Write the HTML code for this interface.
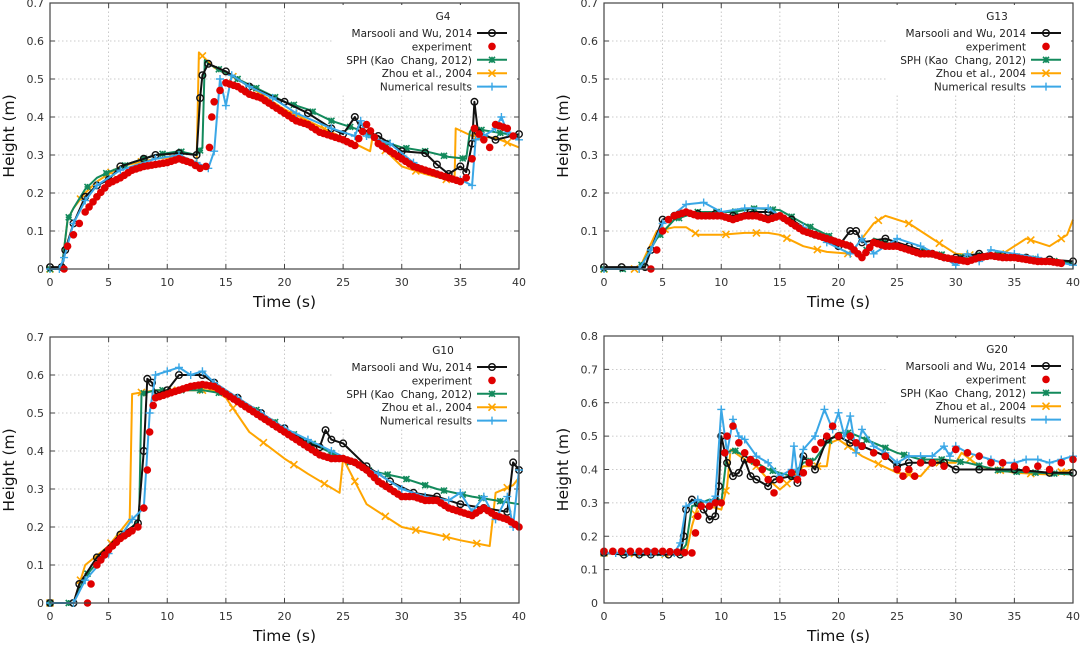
<!DOCTYPE html>
<html><head><meta charset="utf-8"><style>
body{margin:0;background:#fff;width:1080px;height:645px;overflow:hidden}
svg{display:block}
text{font-family:"DejaVu Sans","Liberation Sans",sans-serif}
</style></head><body>
<svg id="s" width="1080" height="645" xmlns="http://www.w3.org/2000/svg"></svg>
<script>
const S=document.getElementById('s');let out='';
const C={k:'#111',r:'#e00000',g:'#138a5c',o:'#ffa500',b:'#3aa7e6'};
function panel(P){
 const {x0,x1,y0,y1,ymax,title,data}=P;
 const X=t=>x0+(x1-x0)*t/40, Y=h=>y0-(y0-y1)*h/ymax;
 let g='';
 for(let t=0;t<=40;t+=5){const x=X(t);
  if(t>0&&t<40) g+=`<line x1="${x}" y1="${y0}" x2="${x}" y2="${y1}" stroke="#bbb" stroke-width="0.8" stroke-dasharray="1.5,2.5"/>`;
  g+=`<line x1="${x}" y1="${y0}" x2="${x}" y2="${y0-5}" stroke="#444"/><line x1="${x}" y1="${y1}" x2="${x}" y2="${y1+5}" stroke="#444"/>`;
  g+=`<text x="${x}" y="${y0+17}" font-size="11" fill="#333" text-anchor="middle">${t}</text>`;}
 for(let h=0;h<=ymax+1e-9;h+=0.1){const y=Y(h);
  if(h>0.001&&h<ymax-0.001) g+=`<line x1="${x0}" y1="${y}" x2="${x1}" y2="${y}" stroke="#bbb" stroke-width="0.8" stroke-dasharray="1.5,2.5"/>`;
  g+=`<line x1="${x0}" y1="${y}" x2="${x0+5}" y2="${y}" stroke="#444"/><line x1="${x1}" y1="${y}" x2="${x1-5}" y2="${y}" stroke="#444"/>`;
  g+=`<text x="${x0-6}" y="${y+4}" font-size="11" fill="#333" text-anchor="end">${h<0.001?'0':h.toFixed(1)}</text>`;}
 out+=g;
 const lx=x1-12;
 out+=`<rect x="${x1-185}" y="${y1+2}" width="183" height="88" fill="#fff"/>`;
 const pl=a=>a.map(p=>X(p[0]).toFixed(1)+','+Y(p[1]).toFixed(1)).join(' ');
 const mk=(type,x,y,c)=>{
  if(type=='k')return `<circle cx="${x}" cy="${y}" r="3.3" fill="none" stroke="${c}" stroke-width="1.4"/>`;
  if(type=='r')return `<circle cx="${x}" cy="${y}" r="3.8" fill="${c}"/>`;
  if(type=='g')return `<path d="M${x-3},${y-3}L${x+3},${y+3}M${x-3},${y+3}L${x+3},${y-3}M${x-3},${y}L${x+3},${y}M${x},${y-3}L${x},${y+3}" stroke="${c}" stroke-width="1.6"/><rect x="${x-2}" y="${y-2}" width="4" height="4" fill="${c}"/>`;
  if(type=='o')return `<path d="M${x-3.5},${y-3.5}L${x+3.5},${y+3.5}M${x-3.5},${y+3.5}L${x+3.5},${y-3.5}" stroke="${c}" stroke-width="1.6"/>`;
  if(type=='b')return `<path d="M${x-4},${y}L${x+4},${y}M${x},${y-4}L${x},${y+4}" stroke="${c}" stroke-width="1.4"/>`;};
 const interp=(a,t)=>{for(let i=1;i<a.length;i++){if(t<=a[i][0]){const u=(t-a[i-1][0])/(a[i][0]-a[i-1][0]||1);return a[i-1][1]+u*(a[i][1]-a[i-1][1]);}}return a[a.length-1][1];};
 for(const k of ['o','g','k','b']){
  const a=data[k];
  out+=`<polyline points="${pl(a)}" fill="none" stroke="${C[k]}" stroke-width="2" stroke-linejoin="round"/>`;
  const step={o:2.6,g:1.6,k:0,b:0}[k];
  if(step){for(let t=0;t<=40;t+=step)out+=mk(k,X(t),Y(interp(a,t)),C[k]);}
  else a.forEach((p,i)=>{out+=mk(k,X(p[0]),Y(p[1]),C[k]);});
 }
 data.r.forEach(p=>out+=mk('r',X(p[0]),Y(p[1]),C.r));
 out+=`<rect x="${x0}" y="${y1}" width="${x1-x0}" height="${y0-y1}" fill="none" stroke="#444" stroke-width="1.2"/>`;
 const rows=[['Marsooli and Wu, 2014','k'],['experiment','r'],['SPH (Kao  Chang, 2012)','g'],['Zhou et al., 2004','o'],['Numerical results','b']];
 out+=`<text x="${lx-64}" y="${y1+17}" font-size="10.5" fill="#222" text-anchor="middle">${title}</text>`;
 rows.forEach((r,i)=>{const y=y1+30+i*13.4;
  out+=`<text x="${lx-35}" y="${y+4}" font-size="10.5" fill="#222" text-anchor="end" xml:space="preserve">${r[0]}</text>`;
  if(r[1]!='r')out+=`<line x1="${lx-30}" y1="${y}" x2="${lx}" y2="${y}" stroke="${C[r[1]]}" stroke-width="2"/>`;
  out+=mk(r[1],lx-15,y,C[r[1]]);});
 out+=`<text x="${(x0+x1)/2}" y="${y0+38}" font-size="15.5" fill="#111" text-anchor="middle">Time (s)</text>`;
 const cy=(y0+y1)/2;
 out+=`<text x="${x0-36}" y="${cy}" font-size="15.5" fill="#111" text-anchor="middle" transform="rotate(-90 ${x0-36} ${cy})">Height (m)</text>`;
}
function dense(a,n){const r=[];for(let i=1;i<a.length;i++){const m=Math.max(1,Math.round((a[i][0]-a[i-1][0])*n));for(let j=0;j<m;j++){const u=j/m;r.push([a[i-1][0]+u*(a[i][0]-a[i-1][0]),a[i-1][1]+u*(a[i][1]-a[i-1][1])]);}}r.push(a[a.length-1]);return r;}
panel({x0:50,x1:519,y0:269,y1:3,ymax:0.7,title:'G4',data:{
k:[[0,0.005],[1,0.005],[1.3,0.05],[2,0.12],[3,0.19],[4,0.22],[5,0.235],[6,0.27],[8,0.29],[9,0.30],[11,0.305],[12.5,0.3],[12.8,0.45],[13,0.51],[13.5,0.54],[15,0.52],[17,0.48],[20,0.44],[22,0.41],[24,0.37],[25,0.355],[26,0.40],[26.5,0.37],[28,0.35],[30,0.31],[32,0.305],[33,0.275],[34,0.25],[35,0.27],[35.5,0.255],[36,0.33],[36.2,0.44],[36.5,0.36],[38,0.34],[40,0.355]],
r:dense([[1.2,0],[1.5,0.06],[2,0.09],[2.5,0.12],[3,0.15],[4,0.19],[5,0.225],[6,0.24],[7,0.26],[8,0.27],[9,0.275],[10,0.28],[11,0.29],[12,0.28],[12.8,0.265],[13.3,0.27],[13.6,0.32],[13.8,0.4],[14,0.44],[14.5,0.47],[15,0.49],[16,0.48],[17,0.46],[18,0.45],[19,0.43],[20,0.41],[21,0.39],[22,0.38],[23,0.36],[24,0.35],[25,0.34],[26,0.325],[27,0.38],[28,0.33],[29,0.31],[30,0.29],[31,0.27],[32,0.26],[33,0.25],[34,0.24],[35,0.23],[35.5,0.24],[36,0.29],[36.2,0.37],[37,0.34],[37.5,0.32],[38,0.38],[39,0.37],[39.5,0.35]],2.5),
g:[[0,0],[1,0],[1.5,0.13],[2,0.16],[3,0.21],[4,0.24],[5,0.255],[7,0.28],[9,0.3],[11,0.31],[12.5,0.3],[13,0.32],[13.2,0.55],[13.5,0.54],[16,0.5],[18,0.47],[20,0.44],[22,0.42],[24,0.39],[26,0.37],[28,0.34],[30,0.32],[32,0.31],[34,0.295],[35.5,0.29],[35.8,0.36],[36,0.37],[38,0.36],[40,0.35]],
o:[[0,0],[1,0],[1.5,0.13],[2,0.16],[3,0.2],[4,0.23],[6,0.27],[9,0.29],[11,0.295],[12.5,0.28],[12.7,0.57],[14,0.53],[16,0.5],[18,0.46],[20,0.42],[24,0.36],[27.3,0.31],[27.5,0.345],[30,0.27],[32,0.25],[34.5,0.23],[34.6,0.37],[36,0.35],[38,0.345],[40,0.32]],
b:[[0,0],[0.8,0],[1.2,0.03],[2,0.12],[3,0.18],[4,0.22],[6,0.26],[9,0.29],[11,0.3],[12.5,0.28],[13.5,0.265],[14,0.31],[14.5,0.5],[15,0.43],[15.5,0.51],[17,0.48],[19,0.45],[21,0.41],[24,0.37],[26,0.35],[26.5,0.39],[27,0.35],[29,0.33],[31,0.28],[33,0.25],[35,0.235],[36,0.22],[36.3,0.34],[37,0.35],[38,0.37],[38.5,0.4],[39,0.36],[40,0.34]]}});
panel({x0:604,x1:1073,y0:269,y1:3,ymax:0.7,title:'G13',data:{
k:[[0,0.005],[1.5,0.005],[3.5,0.005],[4,0.05],[5,0.13],[6,0.14],[8,0.145],[9.5,0.145],[11,0.14],[12.5,0.15],[14,0.15],[16,0.13],[18,0.09],[20,0.06],[21,0.1],[21.5,0.1],[22,0.07],[24,0.08],[26,0.06],[28,0.04],[30,0.03],[32,0.04],[34,0.035],[36,0.03],[38,0.025],[40,0.02]],
r:dense([[4,0],[4.5,0.05],[5,0.1],[5.5,0.13],[6,0.14],[7,0.15],[8,0.14],[9,0.14],[10,0.14],[11,0.13],[12,0.14],[13,0.14],[14,0.13],[15,0.14],[16,0.12],[17,0.1],[18,0.09],[19,0.08],[20,0.07],[21,0.06],[22,0.03],[23,0.07],[24,0.06],[25,0.06],[26,0.05],[27,0.04],[28,0.04],[29,0.03],[30,0.025],[31,0.02],[32,0.03],[33,0.035],[34,0.03],[35,0.03],[36,0.025],[37,0.02],[38,0.02],[39,0.015]],2.5),
g:[[0,0],[3,0],[4.5,0.08],[6,0.13],[8,0.15],[11,0.15],[13,0.16],[15,0.155],[17,0.12],[19,0.09],[21,0.06],[22,0.03],[23,0.08],[25,0.06],[27,0.05],[30,0.03],[33,0.04],[36,0.03],[40,0.015]],
o:[[0,0],[3,0],[4.5,0.1],[6,0.11],[7,0.11],[8,0.09],[10,0.09],[12,0.095],[14,0.095],[15,0.09],[17,0.06],[19,0.045],[21,0.04],[23,0.12],[24,0.14],[26,0.12],[28,0.08],[30,0.04],[32,0.035],[34,0.04],[36,0.08],[38,0.06],[39.5,0.09],[40,0.13]],
b:[[0,0],[3,0],[4,0.05],[5,0.12],[7,0.17],[8.5,0.175],[10,0.15],[12,0.16],[14,0.16],[15,0.14],[17,0.11],[19,0.07],[21,0.04],[22,0.08],[23,0.04],[25,0.08],[27,0.06],[29,0.03],[30,0.01],[31,0.04],[32,0.02],[33,0.05],[35,0.04],[37,0.03],[40,0.01]]}});
panel({x0:50,x1:519,y0:603,y1:337,ymax:0.7,title:'G10',data:{
k:[[0,0],[2,0],[2.5,0.05],[4,0.12],[6,0.18],[7.5,0.21],[8,0.4],[8.3,0.59],[8.7,0.58],[9,0.55],[10,0.56],[11,0.6],[13,0.6],[14,0.58],[16,0.54],[18,0.5],[20,0.46],[22,0.42],[23,0.41],[23.5,0.455],[24,0.43],[25,0.42],[27,0.36],[29,0.32],[31,0.29],[33,0.28],[35,0.26],[37,0.25],[39,0.24],[39.5,0.37],[40,0.35]],
r:dense([[3.2,0],[3.5,0.05],[4,0.1],[5,0.14],[6,0.17],[7,0.19],[7.5,0.2],[8,0.25],[8.3,0.35],[8.5,0.45],[8.8,0.52],[9,0.54],[10,0.55],[11,0.56],[12,0.57],[13,0.575],[14,0.57],[15,0.55],[16,0.53],[17,0.51],[18,0.49],[19,0.47],[20,0.45],[21,0.43],[22,0.41],[23,0.39],[24,0.38],[25,0.38],[26,0.37],[27,0.35],[28,0.32],[29,0.3],[30,0.28],[31,0.28],[32,0.27],[33,0.27],[34,0.25],[35,0.24],[36,0.23],[37,0.25],[38,0.23],[39,0.22],[40,0.2]],2.5),
g:[[0,0],[2,0],[3,0.07],[5,0.14],[7,0.2],[7.6,0.22],[7.8,0.55],[9,0.56],[11,0.56],[13,0.56],[15,0.55],[17,0.52],[19,0.48],[21,0.44],[23,0.41],[25,0.38],[27,0.35],[30,0.33],[33,0.3],[36,0.28],[38,0.27],[40,0.26]],
o:[[0,0],[2,0],[3,0.1],[5,0.15],[6.8,0.22],[7,0.55],[9,0.56],[12,0.56],[14,0.56],[15,0.54],[17,0.45],[20,0.38],[22,0.34],[24.7,0.29],[25,0.38],[27,0.26],[30,0.2],[33,0.18],[35,0.165],[37.5,0.15],[38,0.29],[39.5,0.31],[40,0.33]],
b:[[0,0],[2,0],[3,0.06],[5,0.13],[7,0.22],[8,0.25],[8.5,0.5],[9,0.6],[10,0.61],[11,0.62],[12,0.6],[13,0.61],[14,0.58],[16,0.54],[18,0.5],[20,0.46],[22,0.43],[24,0.4],[26,0.37],[28,0.34],[30,0.3],[32,0.28],[34,0.27],[35,0.29],[36,0.24],[37,0.28],[38,0.22],[39,0.28],[39.5,0.2],[40,0.35]]}});
panel({x0:604,x1:1073,y0:603,y1:336,ymax:0.8,title:'G20',data:{
k:[[0,0.15],[1.7,0.145],[3,0.145],[4,0.145],[5.5,0.145],[6.5,0.145],[6.8,0.2],[7,0.28],[7.5,0.31],[8,0.3],[8.5,0.28],[9,0.25],[9.5,0.26],[9.8,0.35],[10,0.5],[10.5,0.42],[11,0.38],[11.5,0.39],[12,0.43],[12.5,0.38],[13,0.37],[14,0.35],[14.5,0.37],[16,0.38],[16.5,0.36],[17,0.44],[18,0.4],[19,0.49],[20,0.5],[21,0.48],[22,0.47],[24,0.44],[25,0.41],[26,0.42],[28,0.42],[29,0.42],[30,0.4],[32,0.4],[35,0.4],[38,0.39],[40,0.39]],
r:dense([[0,0.155],[1.5,0.155],[3,0.155],[5,0.155],[7.5,0.15],[7.8,0.21],[8,0.26],[8.3,0.29],[9,0.29],[9.5,0.3],[10,0.3],[10.3,0.45],[10.5,0.5],[11,0.53],[11.5,0.48],[12,0.45],[12.5,0.43],[13,0.42],[13.5,0.4],[14,0.37],[14.5,0.33],[15,0.37],[16,0.39],[16.5,0.37],[17,0.39],[17.5,0.42],[18,0.46],[18.5,0.48],[19,0.5],[19.5,0.53],[20,0.5],[21,0.5],[21.5,0.48],[22,0.47],[23,0.45],[24,0.44],[25,0.4],[25.5,0.38],[26,0.4],[26.5,0.38],[27,0.42],[28,0.42],[29,0.41],[30,0.46],[31,0.45],[32,0.44],[33,0.42],[34,0.42],[35,0.41],[36,0.4],[37,0.41],[38,0.4],[39,0.42],[40,0.43]],1.4),
g:[[0,0.15],[6.5,0.15],[7,0.175],[7.5,0.29],[9,0.31],[10,0.3],[10.5,0.45],[11,0.46],[12,0.44],[14,0.4],[15,0.39],[16,0.38],[17,0.42],[18,0.43],[19,0.48],[20,0.51],[21,0.51],[23,0.48],[25,0.45],[27,0.43],[29,0.43],[31,0.42],[34,0.395],[37,0.39],[40,0.385]],
o:[[0,0.15],[7,0.145],[7.5,0.23],[8,0.29],[9,0.29],[10,0.28],[10.5,0.35],[10.8,0.46],[12,0.43],[13,0.41],[14,0.37],[15,0.34],[16,0.37],[17,0.41],[18,0.41],[19,0.41],[19.3,0.48],[20,0.49],[22,0.44],[25,0.39],[27,0.38],[28,0.42],[30,0.42],[30.5,0.45],[32,0.41],[35,0.39],[38,0.385],[40,0.4]],
b:[[0,0.15],[1,0.15],[2,0.15],[3,0.15],[4,0.15],[5,0.15],[6,0.15],[6.5,0.18],[7,0.29],[8,0.31],[9,0.3],[9.5,0.32],[10,0.58],[10.5,0.45],[11,0.55],[11.5,0.5],[12,0.49],[13,0.44],[14,0.42],[15,0.38],[16,0.4],[16.2,0.47],[16.5,0.38],[17,0.46],[18,0.5],[18.8,0.58],[19.5,0.52],[20,0.57],[20.5,0.5],[21,0.56],[21.5,0.45],[22,0.52],[23,0.47],[24,0.45],[25,0.42],[26,0.44],[27,0.44],[28,0.44],[29,0.47],[29.5,0.44],[30,0.47],[31,0.45],[32,0.44],[33,0.43],[34,0.42],[35,0.42],[36,0.43],[37,0.43],[38,0.42],[39,0.43],[40,0.44]]}});
S.innerHTML=out;
</script>
</body></html>
